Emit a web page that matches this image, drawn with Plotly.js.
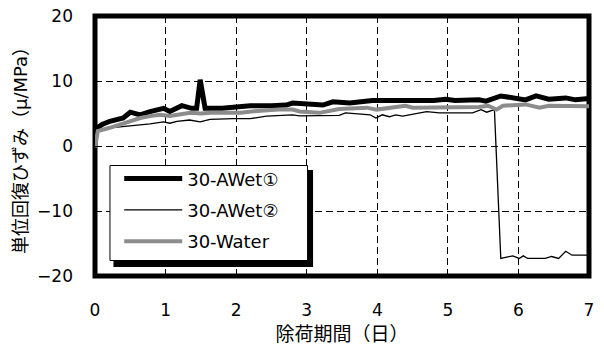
<!DOCTYPE html>
<html>
<head>
<meta charset="utf-8">
<script src="https://cdn.plot.ly/plotly-3.0.1.min.js"></script>
<style>html,body{margin:0;padding:0;background:#fff;}#chart{width:604px;height:345px;}</style>
</head>
<body>
<div id="chart"></div>
<script>
// ---- data ----
var seriesNames = ["30-AWet①", "30-AWet②", "30-Water"];

var days1 = [0, 0.1, 0.21, 0.4, 0.5, 0.64, 0.78, 0.97, 1.06, 1.23, 1.37, 1.44, 1.49, 1.56, 1.8, 2.05, 2.2, 2.5, 2.71, 2.8, 2.9, 3.05, 3.23, 3.37, 3.61, 3.93, 4.2, 4.5, 4.8, 4.97, 5.1, 5.44, 5.54, 5.75, 5.91, 6.1, 6.25, 6.43, 6.67, 6.81, 7.0];
var vals1 = [2.6, 3.3, 3.8, 4.3, 5.2, 4.8, 5.3, 5.8, 5.3, 6.2, 5.8, 5.8, 10.2, 5.8, 5.8, 6.1, 6.2, 6.2, 6.3, 6.6, 6.5, 6.4, 6.3, 6.8, 6.6, 7.0, 7.0, 7.0, 7.0, 7.2, 7.0, 7.1, 6.9, 7.7, 7.4, 7.1, 7.7, 7.2, 7.4, 7.1, 7.3];

var days2 = [0, 0.03, 0.21, 0.54, 0.78, 0.97, 1.06, 1.16, 1.34, 1.49, 1.63, 1.96, 2.2, 2.43, 2.8, 2.9, 3.3, 3.46, 3.55, 3.9, 3.98, 4.07, 4.17, 4.26, 4.36, 4.6, 4.7, 4.88, 5.35, 5.47, 5.55, 5.66, 5.75, 5.92, 6.01, 6.07, 6.13, 6.38, 6.47, 6.57, 6.67, 6.76, 7.0];
var vals2 = [1.8, 2.4, 2.8, 3.1, 3.4, 3.7, 3.5, 3.8, 4.0, 3.7, 4.1, 4.2, 4.2, 4.6, 4.8, 4.65, 4.65, 4.7, 5.1, 4.8, 4.3, 4.8, 4.5, 4.8, 4.6, 5.1, 5.3, 5.1, 5.1, 5.6, 5.2, 5.6, -17.3, -16.9, -17.3, -16.9, -17.3, -17.3, -17.0, -17.3, -16.2, -16.8, -16.8];

var days3 = [0, 0.02, 0.04, 0.21, 0.45, 0.64, 0.78, 0.92, 1.06, 1.2, 1.35, 1.5, 1.64, 2.06, 2.3, 2.6, 2.8, 2.9, 3.18, 3.46, 3.85, 3.99, 4.2, 4.4, 4.5, 4.99, 5.44, 5.57, 5.69, 5.78, 6.1, 6.3, 6.43, 7.0];
var vals3 = [-0.2, 1.5, 2.3, 2.8, 3.6, 4.3, 4.6, 4.8, 4.6, 4.8, 5.1, 5.0, 5.1, 5.1, 5.4, 5.6, 5.6, 5.3, 5.1, 5.7, 5.9, 5.6, 5.9, 6.2, 5.9, 6.0, 6.0, 6.2, 5.6, 6.2, 6.4, 5.9, 6.2, 6.1];

var xTickVals = [0, 1, 2, 3, 4, 5, 6, 7];
var yTickVals = [-20, -10, 0, 10, 20];
var xTitle = "除荷期間（日）";
var yTitle = "単位回復ひずみ（μ/MPa）";

// ---- chart ----
var FONT = '"DejaVu Sans", "Noto Sans CJK JP", sans-serif';
var traces = [
  {x: days1, y: vals1, name: seriesNames[0], mode: 'lines', legendgroup: 'a',
   line: {color: '#000000', width: 5}},
  {x: days2, y: vals2, name: seriesNames[1], mode: 'lines', legendgroup: 'b',
   line: {color: '#000000', width: 1.3}},
  {x: days3, y: vals3, name: seriesNames[2], mode: 'lines', legendgroup: 'c',
   line: {color: '#8c8c8c', width: 4}}
];

var layout = {
  width: 604, height: 345,
  margin: {l: 94.5, r: 14.5, t: 16, b: 69, pad: 0},
  paper_bgcolor: '#ffffff', plot_bgcolor: '#ffffff',
  font: {family: FONT, size: 16, color: '#000000'},
  showlegend: true,
  legend: {
    x: 0.049, y: 0.445, xanchor: 'left', yanchor: 'top',
    bgcolor: 'rgba(0,0,0,0)', borderwidth: 0,
    font: {family: FONT, size: 18, color: '#000000'},
    traceorder: 'grouped', tracegroupgap: 5, itemwidth: 58
  },
  xaxis: {
    range: [0, 7], tickvals: xTickVals, ticks: 'inside', ticklen: 6,
    tickcolor: '#000', showgrid: true, gridcolor: '#000', gridwidth: 1,
    griddash: '7px,4px', zeroline: false, showline: false,
    ticklabelstandoff: 22,
    tickfont: {family: FONT, size: 17},
    title: {text: xTitle, font: {family: FONT, size: 19}, standoff: 13}
  },
  yaxis: {
    range: [-20, 20], tickvals: yTickVals, ticks: 'inside', ticklen: 6,
    tickcolor: '#000', showgrid: true, gridcolor: '#000', gridwidth: 1,
    griddash: '7px,4px', zeroline: false, showline: false,
    ticklabelstandoff: 21,
    tickfont: {family: FONT, size: 17},
    title: {text: yTitle, font: {family: FONT, size: 18}, standoff: 4}
  },
  shapes: [
    {type: 'rect', xref: 'paper', yref: 'paper', x0: 0, x1: 1, y0: 0, y1: 1,
     line: {color: '#000', width: 5}, fillcolor: 'rgba(0,0,0,0)', layer: 'between'},
    {type: 'rect', xref: 'paper', yref: 'paper',
     x0: (113 - 94.5) / 495, x1: (313 - 94.5) / 495,
     y0: (276 - 267) / 260, y1: (276 - 170) / 260,
     line: {width: 0}, fillcolor: '#000', layer: 'above'},
    {type: 'rect', xref: 'paper', yref: 'paper',
     x0: (109.5 - 94.5) / 495, x1: (307.5 - 94.5) / 495,
     y0: (276 - 260.5) / 260, y1: (276 - 165.5) / 260,
     line: {width: 1, color: '#000'}, fillcolor: '#fff', layer: 'above'}
  ]
};

Plotly.newPlot('chart', traces, layout, {staticPlot: true, displayModeBar: false});
</script>
</body>
</html>
